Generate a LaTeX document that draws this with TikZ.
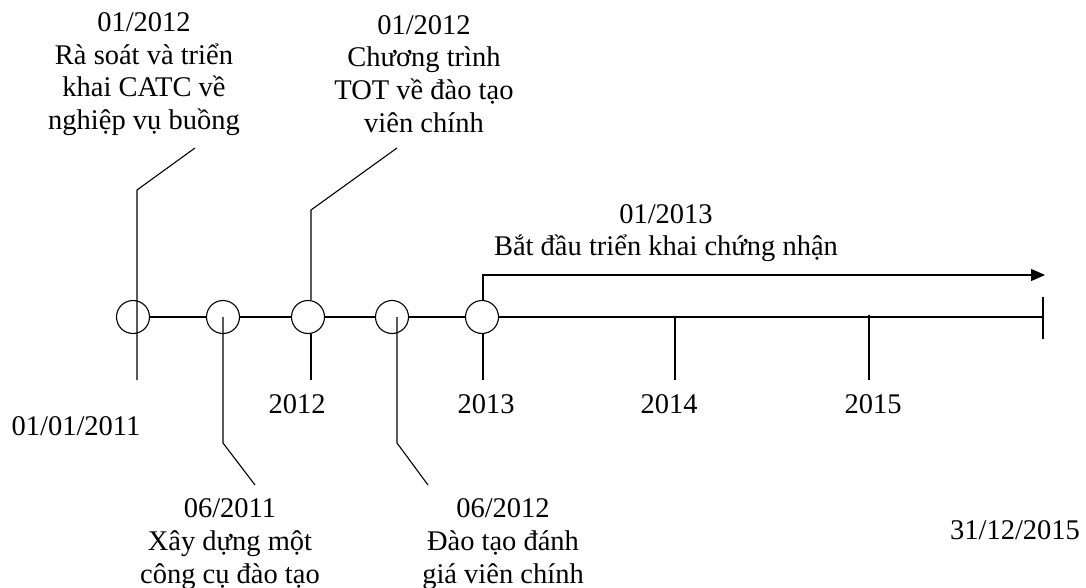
\documentclass[tikz,border=0pt]{standalone}
\usepackage{fontspec}
\setmainfont{Liberation Serif}
\usetikzlibrary{arrows.meta}
\begin{document}
\begin{tikzpicture}[x=1pt,y=-1pt,
  line width=1.1pt,
  event/.style={circle,draw,minimum size=33pt,inner sep=0pt},
  lbl/.style={align=center,inner sep=0pt,font=\fontsize{28.5}{32.8}\selectfont},
]
\useasboundingbox (0,0) rectangle (1086,588);

% event markers on the time axis
\node[event] (c1) at (133,317) {};
\node[event] (c2) at (223,317) {};
\node[event] (c3) at (308,317) {};
\node[event] (c4) at (392,317) {};
\node[event] (c5) at (482,317) {};
\coordinate (axend) at (1043,317);

% axis segments
\draw (c1) -- (c2);
\draw (c2) -- (c3);
\draw (c3) -- (c4);
\draw (c4) -- (c5);
\draw (c5) -- (axend);

% end of period
\coordinate (endtop) at (1043,297);
\coordinate (endbot) at (1043,339);
\draw (endtop) -- (endbot);

% year ticks
\coordinate (y14a) at (675,317);
\coordinate (y14b) at (675,380);
\coordinate (y15a) at (869,315);
\coordinate (y15b) at (869,380);
\draw (y14a) -- (y14b);
\draw (y15a) -- (y15b);

% leader: 01/01/2011 and 01/2012 review
\coordinate (l1a) at (195,148);
\coordinate (l1b) at (137,190);
\coordinate (t1) at (137,380);
\draw (l1a) -- (l1b) -- (t1);

% leader: 2012 and TOT programme
\coordinate (l3a) at (397,148);
\coordinate (l3b) at (311,210);
\coordinate (t3) at (311,380);
\draw (l3a) -- (l3b) -- (l3b |- c3.north);
\draw (t3 |- c3.south) -- (t3);

% leaders below the axis
\coordinate (l2a) at (223,443);
\coordinate (l2b) at (255,485);
\draw (c2.center) -- (l2a) -- (l2b);
\coordinate (l4a) at (397,443);
\coordinate (l4b) at (428,485);
\draw (l4a |- c4.center) -- (l4a) -- (l4b);

% 2013 and certification arrow
\coordinate (a5a) at (483,275);
\coordinate (a5b) at (1045,275);
\coordinate (t5) at (483,380);
\draw[-{Triangle[length=14pt,width=12pt]}] (a5a |- c5.north) -- (a5a) -- (a5b);
\draw (t5 |- c5.south) -- (t5);

% labels
\node[lbl] (txt1) at (144,74) {01/2012\\Rà soát và triển\\khai CATC về\\nghiệp vụ buồng};
\node[lbl] (txt3) at (424,74) {01/2012\\Chương trình\\TOT về đào tạo\\viên chính};
\node[lbl] (txt5) at (666,233) {01/2013\\Bắt đầu triển khai chứng nhận};
\node[lbl] (d11) at (76,426) {01/01/2011};
\node[lbl] (d12) at (297,404) {2012};
\node[lbl] (d13) at (486,404) {2013};
\node[lbl] (d14) at (669,404) {2014};
\node[lbl] (d15) at (873,404) {2015};
\node[lbl] (txt2) at (230,544) {06/2011\\Xây dựng một\\công cụ đào tạo};
\node[lbl] (txt4) at (503,544) {06/2012\\Đào tạo đánh\\giá viên chính};
\node[lbl] (dend) at (1015,530) {31/12/2015};
\end{tikzpicture}
\end{document}
